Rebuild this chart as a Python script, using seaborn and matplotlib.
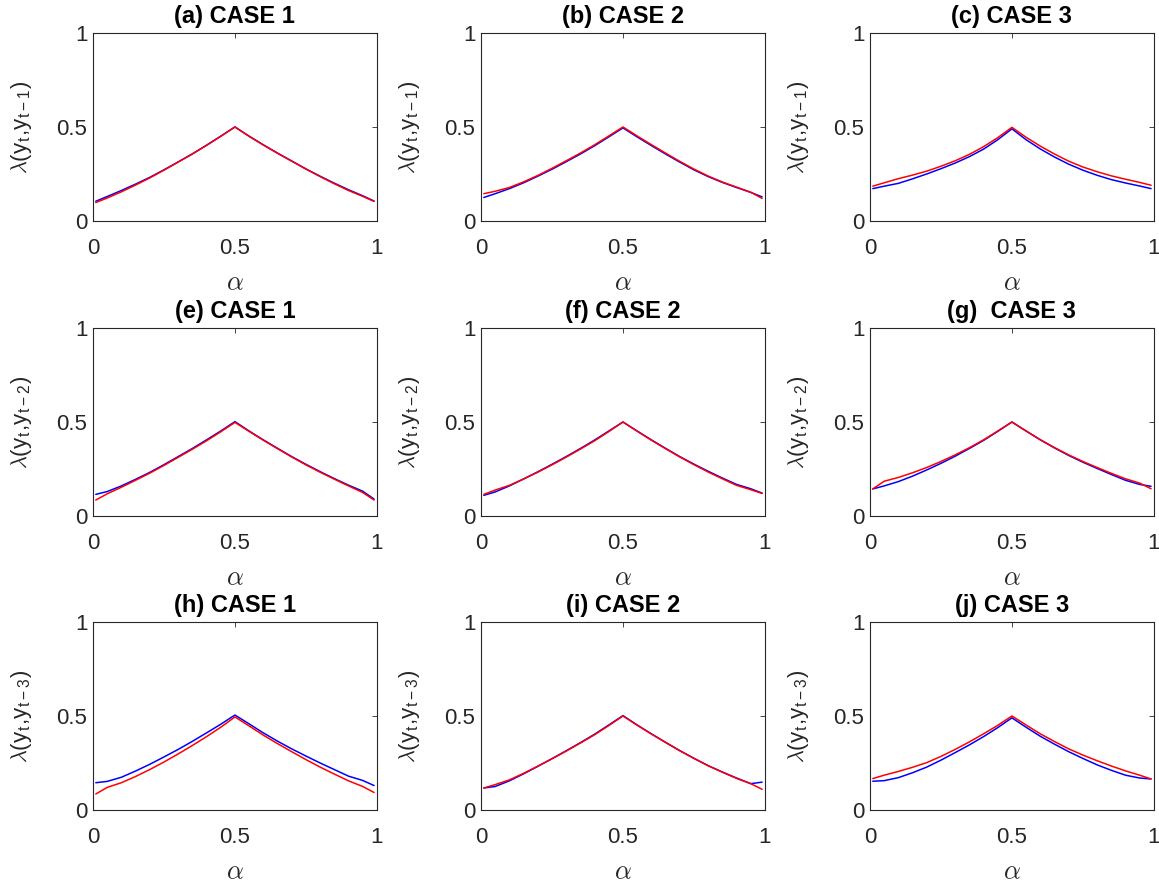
import pandas as pd
import matplotlib
matplotlib.use("Agg")
import matplotlib.pyplot as plt
import seaborn as sns

alpha = [0.01, 0.05, 0.1, 0.15, 0.2, 0.25, 0.3, 0.35, 0.4, 0.45, 0.5,
         0.55, 0.6, 0.65, 0.7, 0.75, 0.8, 0.85, 0.9, 0.95, 0.99]

titles = ["(a) CASE 1", "(b) CASE 2", "(c) CASE 3",
          "(e) CASE 1", "(f) CASE 2", "(g)  CASE 3",
          "(h) CASE 1", "(i) CASE 2", "(j) CASE 3"]
lags = ["t-1", "t-2", "t-3"]

# blue curves
blue_a = [0.105, 0.130, 0.162, 0.196, 0.232, 0.272, 0.314, 0.357, 0.403, 0.451, 0.500,
          0.451, 0.405, 0.361, 0.319, 0.277, 0.238, 0.201, 0.166, 0.134, 0.106]
blue_b = [0.125, 0.145, 0.172, 0.203, 0.238, 0.275, 0.315, 0.356, 0.400, 0.447, 0.495,
          0.447, 0.401, 0.356, 0.313, 0.272, 0.236, 0.205, 0.178, 0.152, 0.128]
blue_c = [0.172, 0.185, 0.200, 0.224, 0.250, 0.278, 0.308, 0.342, 0.382, 0.432, 0.490,
          0.432, 0.383, 0.340, 0.302, 0.270, 0.243, 0.220, 0.202, 0.186, 0.172]
blue_e = [0.115, 0.130, 0.160, 0.195, 0.232, 0.273, 0.316, 0.359, 0.405, 0.452, 0.502,
          0.452, 0.405, 0.360, 0.316, 0.275, 0.236, 0.199, 0.164, 0.132, 0.090]
blue_f = [0.110, 0.128, 0.160, 0.197, 0.235, 0.275, 0.316, 0.359, 0.404, 0.452, 0.500,
          0.452, 0.405, 0.360, 0.316, 0.276, 0.238, 0.202, 0.168, 0.145, 0.122]
blue_g = [0.144, 0.160, 0.183, 0.212, 0.245, 0.280, 0.318, 0.359, 0.402, 0.450, 0.500,
          0.452, 0.405, 0.362, 0.322, 0.286, 0.253, 0.221, 0.190, 0.168, 0.158]
blue_h = [0.145, 0.152, 0.174, 0.207, 0.243, 0.282, 0.322, 0.365, 0.410, 0.456, 0.505,
          0.458, 0.410, 0.366, 0.325, 0.287, 0.250, 0.215, 0.180, 0.157, 0.130]
blue_i = [0.117, 0.125, 0.155, 0.192, 0.232, 0.273, 0.315, 0.358, 0.403, 0.452, 0.502,
          0.452, 0.405, 0.360, 0.316, 0.275, 0.236, 0.202, 0.170, 0.140, 0.148]
blue_j = [0.153, 0.156, 0.172, 0.198, 0.228, 0.265, 0.305, 0.346, 0.390, 0.438, 0.490,
          0.440, 0.392, 0.350, 0.310, 0.274, 0.240, 0.211, 0.185, 0.170, 0.165]

# red curves
red_a = [0.098, 0.122, 0.155, 0.191, 0.229, 0.270, 0.313, 0.356, 0.402, 0.450, 0.500,
         0.450, 0.404, 0.360, 0.318, 0.276, 0.236, 0.198, 0.162, 0.131, 0.104]
red_b = [0.145, 0.158, 0.178, 0.208, 0.242, 0.280, 0.320, 0.361, 0.405, 0.452, 0.500,
         0.452, 0.406, 0.361, 0.317, 0.276, 0.239, 0.207, 0.180, 0.153, 0.120]
red_c = [0.185, 0.203, 0.225, 0.244, 0.265, 0.291, 0.320, 0.354, 0.395, 0.443, 0.498,
         0.445, 0.398, 0.356, 0.318, 0.287, 0.262, 0.240, 0.222, 0.205, 0.190]
red_e = [0.085, 0.118, 0.153, 0.190, 0.228, 0.269, 0.312, 0.355, 0.400, 0.448, 0.498,
         0.450, 0.403, 0.358, 0.314, 0.272, 0.233, 0.196, 0.160, 0.125, 0.085]
red_f = [0.115, 0.138, 0.163, 0.197, 0.233, 0.272, 0.313, 0.356, 0.400, 0.449, 0.500,
         0.451, 0.403, 0.358, 0.314, 0.273, 0.234, 0.198, 0.163, 0.140, 0.120]
red_g = [0.144, 0.185, 0.205, 0.230, 0.258, 0.290, 0.325, 0.363, 0.405, 0.452, 0.500,
         0.452, 0.406, 0.364, 0.325, 0.290, 0.258, 0.227, 0.198, 0.175, 0.145]
red_h = [0.085, 0.120, 0.145, 0.178, 0.215, 0.255, 0.298, 0.343, 0.390, 0.440, 0.495,
         0.447, 0.398, 0.353, 0.310, 0.268, 0.228, 0.191, 0.155, 0.125, 0.093]
red_i = [0.117, 0.135, 0.160, 0.195, 0.233, 0.272, 0.313, 0.356, 0.400, 0.449, 0.500,
         0.451, 0.404, 0.359, 0.315, 0.274, 0.235, 0.201, 0.168, 0.140, 0.110]
red_j = [0.167, 0.185, 0.205, 0.227, 0.252, 0.285, 0.322, 0.362, 0.405, 0.450, 0.500,
         0.452, 0.405, 0.364, 0.325, 0.292, 0.262, 0.234, 0.208, 0.185, 0.165]

blues = [blue_a, blue_b, blue_c, blue_e, blue_f, blue_g, blue_h, blue_i, blue_j]
reds = [red_a, red_b, red_c, red_e, red_f, red_g, red_h, red_i, red_j]

sns.set_theme(style="white")
plt.rcParams["font.family"] = ["Liberation Sans", "DejaVu Sans"]
plt.rcParams["mathtext.fontset"] = "cm"

fig = plt.figure(figsize=(11.59, 8.86), dpi=100)

lefts = [0.0802, 0.415, 0.7506]
bottoms = [0.7506, 0.4176, 0.0858]
w, h = 0.245, 0.2122
dark = "#262626"

for k in range(9):
    r, c = divmod(k, 3)
    ax = fig.add_axes([lefts[c], bottoms[r], w, h])
    df = pd.DataFrame({"alpha": alpha, "blue": blues[k], "red": reds[k]})
    sns.lineplot(data=df, x="alpha", y="blue", color=(0, 0, 1), lw=1.1, ax=ax)
    sns.lineplot(data=df, x="alpha", y="red", color=(1, 0, 0), lw=1.1, ax=ax)
    ax.set_xlim(0, 1)
    ax.set_ylim(0, 1)
    ax.set_xticks([0, 0.5, 1])
    ax.set_xticklabels(["0", "0.5", "1"])
    ax.set_yticks([0, 0.5, 1])
    ax.set_yticklabels(["0", "0.5", "1"])
    ax.tick_params(axis="both", direction="in", length=3.5, width=0.6, colors=dark,
                   labelsize=16, top=True, right=True)
    ax.tick_params(axis="x", pad=12)
    ax.tick_params(axis="y", pad=4)
    for s in ax.spines.values():
        s.set_color(dark)
        s.set_linewidth(0.8)
    ax.set_title(titles[k], fontsize=17, fontweight="bold", color="black", pad=7)
    ax.set_xlabel(r"$\alpha$", fontsize=19, color=dark, labelpad=9)
    lag = lags[r]
    ax.set_ylabel(r"$\lambda$(y$_\mathregular{t}$,y$_\mathregular{" + lag + r"}$)",
                  fontsize=16, color=dark, labelpad=16)

fig.savefig("out.png", dpi=100)
